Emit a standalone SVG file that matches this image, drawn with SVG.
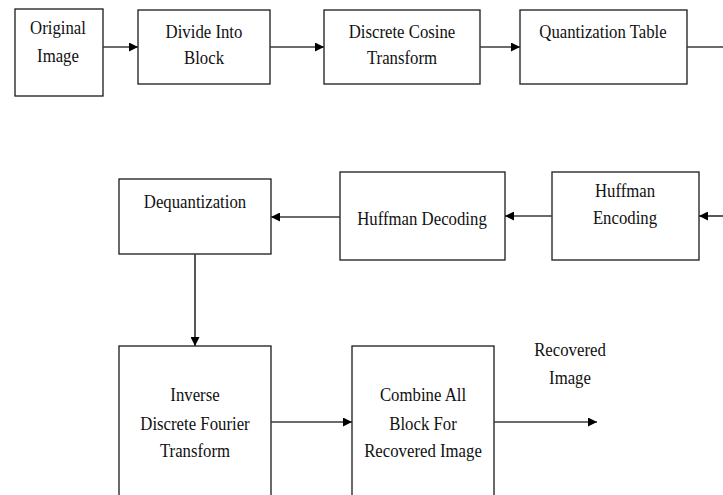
<svg xmlns="http://www.w3.org/2000/svg" width="723" height="495" viewBox="0 0 723 495">
<style>
.box{fill:#fff;stroke:#1a1a1a;stroke-width:1.3}
.t{font-family:'Liberation Serif','Times New Roman','DejaVu Serif',serif;font-size:19.5px;fill:#111;text-anchor:middle}
.c{fill:none;stroke:#3a3a3a;stroke-width:1.7}
</style>
<defs>
<marker id="ah" viewBox="0 0 10 10" refX="10" refY="5" markerWidth="9" markerHeight="9" markerUnits="userSpaceOnUse" orient="auto">
<path d="M0,0 L10,5 L0,10 z" fill="#000"/>
</marker>
</defs>
<rect width="723" height="495" fill="#fff"/>
<g id="n1"><rect class="box" x="15" y="9" width="88" height="87"/><text class="t" transform="translate(58,34) scale(0.86,1)">Original</text><text class="t" transform="translate(58,62) scale(0.86,1)">Image</text></g>
<g id="n2"><rect class="box" x="138" y="10" width="132" height="74"/><text class="t" transform="translate(204,38) scale(0.86,1)">Divide Into</text><text class="t" transform="translate(204,64) scale(0.86,1)">Block</text></g>
<g id="n3"><rect class="box" x="324" y="10" width="156" height="74"/><text class="t" transform="translate(402,38) scale(0.86,1)">Discrete Cosine</text><text class="t" transform="translate(402,64) scale(0.86,1)">Transform</text></g>
<g id="n4"><rect class="box" x="520" y="10" width="167" height="74"/><text class="t" transform="translate(603,38) scale(0.86,1)">Quantization Table</text></g>
<g id="n5"><rect class="box" x="552" y="172" width="147" height="88"/><text class="t" transform="translate(625,197) scale(0.86,1)">Huffman</text><text class="t" transform="translate(625,224) scale(0.86,1)">Encoding</text></g>
<g id="n6"><rect class="box" x="340" y="172" width="165" height="88"/><text class="t" transform="translate(422,225) scale(0.86,1)">Huffman Decoding</text></g>
<g id="n7"><rect class="box" x="119" y="179" width="152" height="75"/><text class="t" transform="translate(195,208) scale(0.86,1)">Dequantization</text></g>
<g id="n8"><rect class="box" x="119" y="346" width="152" height="155"/><text class="t" transform="translate(195,401) scale(0.86,1)">Inverse</text><text class="t" transform="translate(195,430) scale(0.86,1)">Discrete Fourier</text><text class="t" transform="translate(195,457) scale(0.86,1)">Transform</text></g>
<g id="n9"><rect class="box" x="352" y="346" width="142" height="155"/><text class="t" transform="translate(423,401) scale(0.86,1)">Combine All</text><text class="t" transform="translate(423,430) scale(0.86,1)">Block For</text><text class="t" transform="translate(423,457) scale(0.86,1)">Recovered Image</text></g>
<g id="lbl"><text class="t" transform="translate(570,356) scale(0.86,1)">Recovered</text><text class="t" transform="translate(570,384) scale(0.86,1)">Image</text></g>
<g id="connectors">
<line class="c" x1="103" y1="47" x2="138" y2="47" marker-end="url(#ah)"/>
<line class="c" x1="270" y1="47" x2="324" y2="47" marker-end="url(#ah)"/>
<line class="c" x1="480" y1="47" x2="520" y2="47" marker-end="url(#ah)"/>
<line class="c" x1="687" y1="47" x2="723" y2="47"/>
<line class="c" x1="723" y1="216" x2="699" y2="216" marker-end="url(#ah)"/>
<line class="c" x1="552" y1="216" x2="505" y2="216" marker-end="url(#ah)"/>
<line class="c" x1="340" y1="217" x2="271" y2="217" marker-end="url(#ah)"/>
<line class="c" x1="195" y1="254" x2="195" y2="346" marker-end="url(#ah)"/>
<line class="c" x1="271" y1="422" x2="352" y2="422" marker-end="url(#ah)"/>
<line class="c" x1="494" y1="422" x2="597" y2="422" marker-end="url(#ah)"/>
</g>
</svg>
